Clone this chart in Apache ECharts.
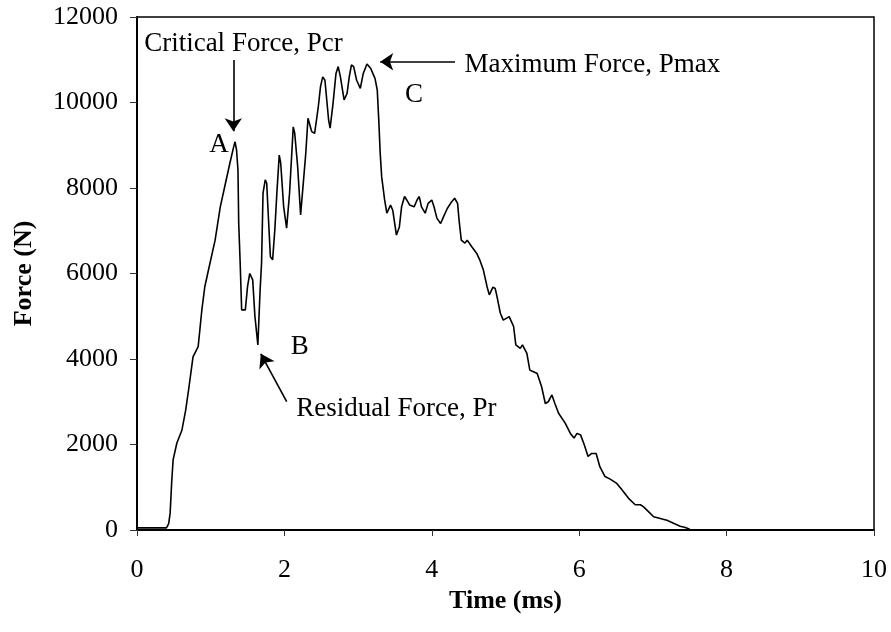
<!DOCTYPE html>
<html>
<head>
<meta charset="utf-8">
<script src="https://cdn.jsdelivr.net/npm/echarts@6/dist/echarts.min.js"></script>
<style>
  html, body { margin: 0; padding: 0; background: #fff; }
  #chart { width: 891px; height: 632px; }
</style>
</head>
<body>
<div id="chart"></div>
<script>
// time (ms) / force (N)
var times = [0, 0.40, 0.43, 0.45, 0.47, 0.49, 0.54, 0.61, 0.66, 0.70, 0.76, 0.83, 0.88, 0.92, 0.99,
    1.06, 1.13, 1.19, 1.26, 1.31, 1.33, 1.35, 1.37, 1.38, 1.40, 1.42, 1.47, 1.50, 1.53, 1.57, 1.60,
    1.64, 1.67, 1.69, 1.71, 1.74, 1.76, 1.78, 1.81, 1.84, 1.87, 1.90, 1.93, 1.95, 1.99, 2.03, 2.07,
    2.12, 2.14, 2.18, 2.22, 2.26, 2.29, 2.32, 2.37, 2.41, 2.46, 2.49, 2.52, 2.55, 2.60, 2.62, 2.66,
    2.70, 2.73, 2.76, 2.81, 2.85, 2.88, 2.91, 2.94, 2.98, 3.03, 3.07, 3.12, 3.17, 3.23, 3.26, 3.28,
    3.30, 3.32, 3.36, 3.39, 3.44, 3.47, 3.52, 3.56, 3.59, 3.63, 3.66, 3.70, 3.76, 3.80, 3.83, 3.86,
    3.91, 3.95, 4.00, 4.03, 4.07, 4.12, 4.16, 4.21, 4.27, 4.31, 4.35, 4.37, 4.40, 4.45, 4.48, 4.54,
    4.61, 4.65, 4.70, 4.75, 4.78, 4.83, 4.86, 4.88, 4.93, 4.97, 5.05, 5.11, 5.14, 5.20, 5.23, 5.29,
    5.33, 5.38, 5.43, 5.49, 5.54, 5.58, 5.63, 5.67, 5.72, 5.81, 5.88, 5.93, 5.97, 6.02, 6.07, 6.12,
    6.17, 6.23, 6.28, 6.35, 6.42, 6.51, 6.58, 6.67, 6.76, 6.83, 6.87, 6.94, 7.01, 7.10, 7.19, 7.28,
    7.37, 7.44, 7.50];
var forces = [50, 50, 150, 400, 1100, 1640, 2030, 2340, 2800, 3280, 4050, 4290, 5150, 5690, 6240,
    6780, 7560, 8030, 8580, 8950, 9080, 8900, 8420, 7180, 6240, 5150, 5150, 5700, 6000, 5850, 5000,
    4330, 5600, 6240, 7880, 8190, 8110, 7410, 6390, 6320, 7020, 7950, 8770, 8580, 7560, 7060, 7880,
    9430, 9280, 8500, 7370, 8190, 8810, 9630, 9320, 9280, 9900, 10370, 10600, 10520, 9590, 9400, 9980,
    10680, 10840, 10600, 10060, 10210, 10600, 10880, 10840, 10520, 10330, 10680, 10900, 10800, 10560, 10290, 9600,
    8810, 8260, 7720, 7410, 7600, 7480, 6900, 7090, 7560, 7800, 7720, 7600, 7560, 7720, 7800, 7560,
    7410, 7640, 7720, 7560, 7290, 7170, 7330, 7520, 7680, 7760, 7640, 7250, 6780, 6710, 6780, 6630,
    6470, 6320, 6080, 5690, 5500, 5680, 5650, 5500, 5070, 4910, 4990, 4760, 4330, 4250, 4330, 4130,
    3740, 3700, 3660, 3350, 2960, 3000, 3160, 2960, 2730, 2500, 2260, 2150, 2260, 2220, 1990, 1720,
    1790, 1790, 1480, 1250, 1190, 1090, 940, 740, 590, 590, 545, 430, 310, 270, 230, 160,
    90, 60, 20];

// annotation texts and where they sit (data units)
var noteTexts = ['Critical Force, Pcr', 'Maximum Force, Pmax', 'Residual Force, Pr', 'A', 'B', 'C'];
var noteCoords = [[1.445, 11380], [6.18, 10890], [3.52, 2830], [1.113, 9005], [2.21, 4280], [3.758, 10175]];

// arrows: [from, to]
var arrows = [
    [[1.307, 10993], [1.307, 9330]],
    [[4.315, 10954], [3.30, 10954]],
    [[2.031, 3001], [1.68, 4120]]
];

var font = 'Liberation Serif, Times New Roman, serif';

var pts = times.map(function (t, i) { return [t, forces[i]]; });

var myChart = echarts.init(document.getElementById('chart'), null, { renderer: 'canvas' });

var option = {
    animation: false,
    backgroundColor: '#fff',
    grid: {
        left: 137, right: 17, top: 17, bottom: 102,
        show: true, borderColor: '#000', borderWidth: 1.5
    },
    xAxis: {
        type: 'value', min: 0, max: 10, interval: 2,
        name: 'Time (ms)', nameLocation: 'middle', nameGap: 57,
        nameTextStyle: { fontFamily: font, fontWeight: 'bold', fontSize: 26, color: '#000' },
        axisLine: { lineStyle: { color: '#000', width: 2 } },
        axisTick: { inside: false, length: 6, lineStyle: { color: '#333', width: 1 } },
        axisLabel: { fontFamily: font, fontSize: 26, color: '#000', margin: 27 },
        splitLine: { show: false }
    },
    yAxis: {
        type: 'value', min: 0, max: 12000, interval: 2000,
        name: 'Force (N)', nameLocation: 'middle', nameGap: 100, nameRotate: 90,
        nameTextStyle: { fontFamily: font, fontWeight: 'bold', fontSize: 26, color: '#000' },
        axisLine: { show: true, lineStyle: { color: '#000', width: 2 } },
        axisTick: { show: true, inside: false, length: 7, lineStyle: { color: '#333', width: 1 } },
        axisLabel: {
            fontFamily: font, fontSize: 26, color: '#000', margin: 19,
            formatter: function (v) { return String(v); }
        },
        splitLine: { show: false }
    },
    series: [{
        type: 'line',
        data: pts,
        showSymbol: false,
        lineStyle: { color: '#000', width: 1.6 },
        markLine: {
            silent: true,
            symbol: ['none', 'arrow'],
            symbolSize: 13,
            label: { show: false },
            lineStyle: { color: '#000', width: 1.6, type: 'solid' },
            itemStyle: { color: '#000' },
            emphasis: { disabled: true },
            data: arrows.map(function (a) { return [{ coord: a[0] }, { coord: a[1] }]; })
        },
        markPoint: {
            silent: true,
            symbol: 'circle',
            symbolSize: 1,
            itemStyle: { color: 'transparent' },
            label: {
                show: true, position: 'inside',
                fontFamily: font, fontSize: 27, color: '#000',
                formatter: function (p) { return p.name; }
            },
            data: noteTexts.map(function (s, i) { return { name: s, coord: noteCoords[i] }; })
        }
    }]
};

myChart.setOption(option);
</script>
</body>
</html>
